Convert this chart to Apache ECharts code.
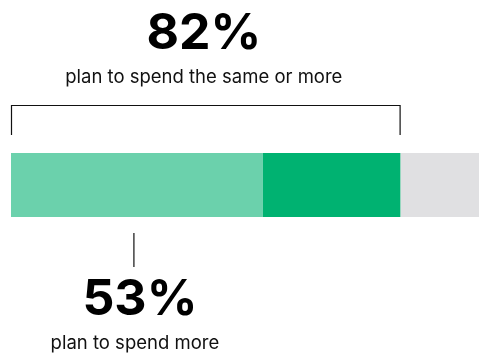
<!DOCTYPE html>
<html><head><meta charset="utf-8">
<script src="https://cdn.jsdelivr.net/npm/echarts@6/dist/echarts.min.js"></script>
<style>html,body{margin:0;padding:0;background:#fff}#c{width:479px;height:354px}</style>
</head><body><div id="c"></div>
<script>
var categories = ['Spend'];
var segmentNames = ['Spend more', 'Spend the same', 'Spend less'];
var segmentValues = [53, 29, 18];
var segmentColors = ['#6bd1ac', '#00b271', '#e0e0e2'];
var topLabel = '82%';
var topSub = 'plan to spend the same or more';
var bottomLabel = '53%';
var bottomSub = 'plan to spend more';
var visibleMax = 98.5; // bar runs slightly past the right edge of the picture

var chart = echarts.init(document.getElementById('c'), null, {renderer: 'canvas'});
var series = segmentValues.map(function (v, i) {
  return {
    name: segmentNames[i], type: 'bar', stack: 'total', barWidth: '100%',
    data: [v], itemStyle: {color: segmentColors[i]}, silent: true
  };
});
chart.setOption({
  animation: false,
  grid: {left: 11, top: 153, right: 0, height: 64},
  xAxis: {type: 'value', min: 0, max: visibleMax, show: false},
  yAxis: {type: 'category', data: categories, show: false},
  series: series
});

var ff = 'Inter, "Noto Sans", sans-serif';
var x0 = chart.convertToPixel({xAxisIndex: 0}, 0);
var xSame = chart.convertToPixel({xAxisIndex: 0}, segmentValues[0] + segmentValues[1]);
var xMidMore = chart.convertToPixel({xAxisIndex: 0}, segmentValues[0] / 2) - 3;
var bracketCenter = (x0 + xSame) / 2;
var lineStyle = {stroke: '#111', lineWidth: 1.2};

chart.setOption({
  graphic: [
    {type: 'polyline', shape: {points: [[x0 + 0.5, 135], [x0 + 0.5, 105.5], [xSame - 0.5, 105.5], [xSame - 0.5, 135]]}, style: lineStyle, silent: true},
    {type: 'line', shape: {x1: xMidMore, y1: 233, x2: xMidMore, y2: 267}, style: lineStyle, silent: true},
    {type: 'text', x: bracketCenter - 2, y: 34, style: {text: topLabel, font: 'bold 50px ' + ff, fill: '#000', textAlign: 'center', textVerticalAlign: 'middle'}},
    {type: 'text', x: bracketCenter - 2, y: 77, style: {text: topSub, font: '18.5px ' + ff, fill: '#111', textAlign: 'center', textVerticalAlign: 'middle'}},
    {type: 'text', x: xMidMore + 6, y: 300, style: {text: bottomLabel, font: 'bold 50px ' + ff, fill: '#000', textAlign: 'center', textVerticalAlign: 'middle'}},
    {type: 'text', x: xMidMore + 1, y: 343, style: {text: bottomSub, font: '18.5px ' + ff, fill: '#111', textAlign: 'center', textVerticalAlign: 'middle'}}
  ]
});
</script></body></html>
